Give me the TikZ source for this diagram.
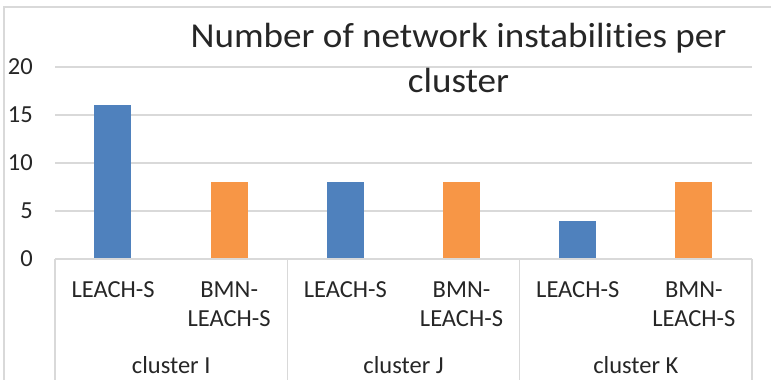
\documentclass[tikz,border=0pt]{standalone}
\usepackage{fontspec}
\setmainfont[RawFeature={-liga;-clig}]{Carlito}
\newfontfamily\titlefont[FakeStretch=1.06,RawFeature={-liga;-clig}]{Carlito}
\usepackage{tikz}
\usetikzlibrary{positioning}
\definecolor{barblue}{HTML}{4F81BD}
\definecolor{barorange}{HTML}{F79646}
\definecolor{gridgray}{HTML}{D9D9D9}
\definecolor{txtgray}{HTML}{262626}

\begin{document}
\begin{tikzpicture}[x=1pt,y=-1pt]
\tikzset{font={\fontsize{24.5}{29}\selectfont},text=txtgray}
\useasboundingbox (0,0) rectangle (771,380);
%Frame
\draw[gridgray,line width=1.5pt] (4,380) -- (4,7) -- (771,7);

%Grid and value axis
\foreach \v in {5,10,15,20}
\draw[gridgray,line width=1.2pt] (55,259-9.6*\v) -- (752,259-9.6*\v);
\foreach \v in {0,5,10,15,20}
\node[anchor=base east,inner sep=0pt] (tick\v) at (33,266.5-9.6*\v) {\v};

%Bars
\foreach \cx/\v/\col in {112.5/16/barblue,229.5/8/barorange,345.2/8/barblue,461.5/8/barorange,577.5/4/barblue,693.5/8/barorange}
\fill[\col] (\cx-18.5,259) rectangle (\cx+18.5,259-9.6*\v);

%Category axis
\draw[gridgray,line width=1.2pt] (55,259) -- (752,259);
\foreach \x in {55,287.3,519.7,752}
\draw[gridgray,line width=1.2pt] (\x,259) -- (\x,380);

% two-line nodes sit on their last baseline
\foreach \g/\name in {0/I,1/J,2/K}{
\node[anchor=base,inner sep=0pt] (leach\name) at (113.1+232.33*\g,297) {LEACH-S};
\node[anchor=base,inner sep=0pt,align=center] (bmn\name) at (229.2+232.33*\g,326) {BMN-\\LEACH-S};
\node[anchor=base,inner sep=0pt] (cluster\name) at (171.2+232.33*\g,373) {cluster \name};
}

%Title
\node[anchor=base,inner sep=0pt,align=center,font={\titlefont\fontsize{35}{45}\selectfont}] (title) at (458.5,92) {Number of network instabilities per\\cluster};

\end{tikzpicture}
\end{document}
